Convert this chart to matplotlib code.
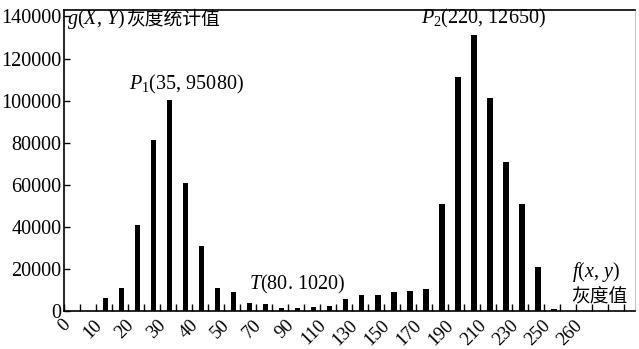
import matplotlib
matplotlib.use("Agg")
import matplotlib.pyplot as plt
import matplotlib.transforms as mtransforms
import numpy as np

plt.rcParams['font.family'] = ['Liberation Serif', 'Noto Sans CJK SC']
plt.rcParams['mathtext.fontset'] = 'custom'
plt.rcParams['mathtext.rm'] = 'Liberation Serif'
plt.rcParams['mathtext.it'] = 'Liberation Serif:italic'

# ---------------------------------------------------------------------
# DATA
# ---------------------------------------------------------------------
tick_labels = ['0', '10', '20', '30', '40', '50', '70', '90', '110',
               '130', '150', '170', '190', '210', '230', '250', '260']

counts = [6000, 11000, 41000, 81500, 100500, 61000, 31000, 11000, 9000,
          4000, 3500, 1200, 1400, 1800, 2200, 5500, 7500, 7800, 8800,
          9500, 10500, 51000, 111000, 131000, 101000, 71000, 51000,
          21000, 900]

FIRST_BIN = 2.6   # position of first bar, in minor-tick units
N_MINOR = 35
FS = 14.5

fig = plt.figure(figsize=(6.39, 3.49), dpi=100)
ax = fig.add_axes([0.1005, 0.109, 0.893, 0.862])

xs = FIRST_BIN + np.arange(len(counts))
ax.bar(xs, counts, width=0.32, color='black')

ax.set_xlim(0, 35.65)
ax.set_ylim(0, 143000)

ax.set_xticks(np.arange(0, 2 * len(tick_labels), 2))
ax.set_xticklabels(tick_labels, rotation=45, ha='right', va='top',
                   rotation_mode='anchor', fontsize=13.5)
ax.set_xticks(np.arange(1, N_MINOR + 1), minor=True)
ax.tick_params(axis='x', which='both', direction='in', length=5,
               width=1.0, pad=4)
shift = mtransforms.ScaledTranslation(-3 / 100, 0, fig.dpi_scale_trans)
for lab in ax.get_xticklabels():
    lab.set_transform(lab.get_transform() + shift)
ax.set_yticks(np.arange(0, 140001, 20000))
ax.tick_params(axis='y', direction='in', length=4, width=1.0,
               labelsize=FS, pad=2)

for side in ('left', 'bottom', 'top'):
    ax.spines[side].set_linewidth(1.2)
ax.spines['right'].set_color('#c8c8c8')

# annotations
t = ax.text(0.2, 139000, r'$g$($X$, $Y$) ', fontsize=FS, va='center')
ax.annotate('灰度统计值', xy=(1, 0.5), xycoords=t, va='center',
            fontsize=FS - 1, family=['Noto Sans CJK SC'])
ax.text(4.05, 107500, r'$P_{1}$(35, 95080)', fontsize=FS, va='center')
ax.text(11.55, 12400, r'$T$(80. 1020)', fontsize=FS, va='center')
ax.text(22.3, 139000, r'$P_{2}$(220, 12650)', fontsize=FS, va='center')
ax.text(31.7, 18500, r'$f$($x$, $y$)', fontsize=FS, va='center')
ax.text(31.7, 6800, '灰度值', fontsize=FS - 1, va='center',
        family=['Noto Sans CJK SC'])

fig.savefig('out.png', dpi=100)
